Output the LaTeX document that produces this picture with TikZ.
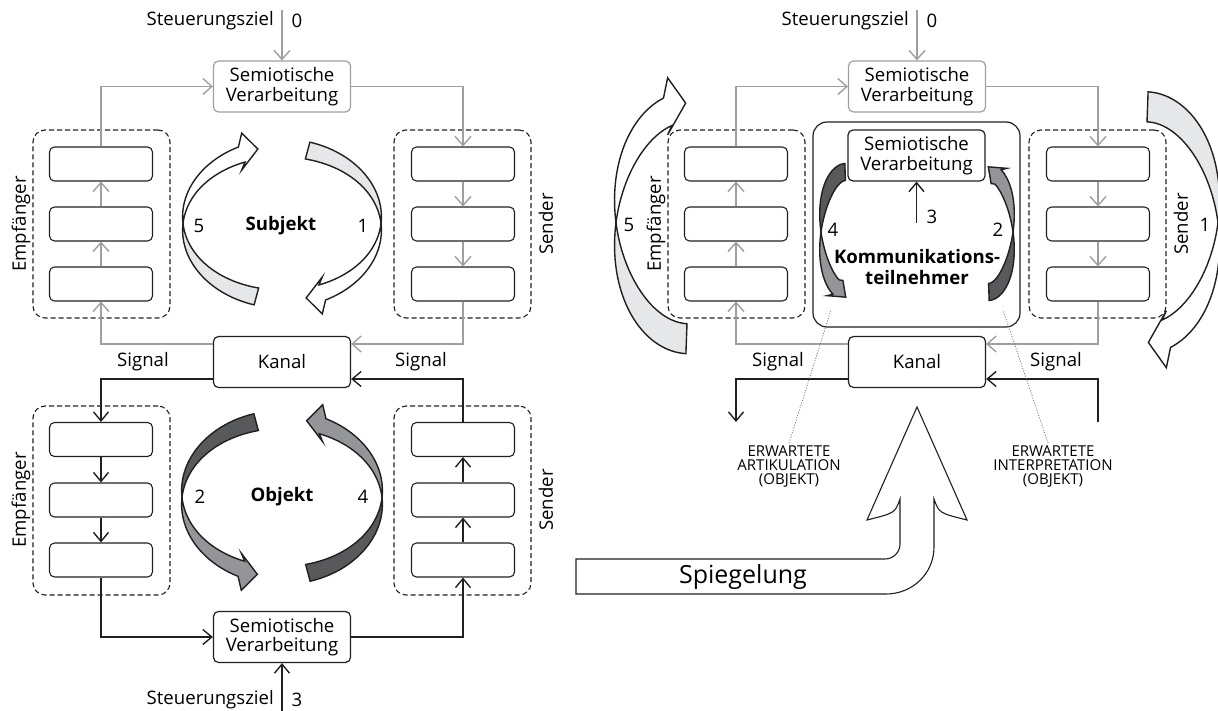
\documentclass[tikz,border=0pt]{standalone}
\usepackage{fontspec}
\setmainfont{Open Sans}
\usetikzlibrary{arrows.meta,calc}
\definecolor{lgray}{HTML}{9D9FA2}
\definecolor{ink}{HTML}{231F20}
\definecolor{fillA}{HTML}{E6E7E8}
\definecolor{midg}{HTML}{939598}
\definecolor{darkg}{HTML}{58595B}
\definecolor{dotg}{HTML}{707070}
\tikzset{
 txt/.style={font=\fontsize{18.6}{19.5}\selectfont, inner sep=0pt},
 box/.style={draw=ink, line width=1.2pt, rounded corners=5pt, minimum width=137pt, minimum height=51pt, align=center, txt},
 gbox/.style={box, draw=lgray},
 ibox/.style={draw=ink, line width=1.1pt, rounded corners=5pt, minimum width=103pt, minimum height=34pt, inner sep=0pt},
 grp/.style={draw=ink, dash pattern=on 5pt off 3pt, line width=1.1pt, rounded corners=12pt, minimum width=137pt, inner sep=0pt},
 garr/.style={draw=lgray, line width=1.4pt, -{Straight Barb[length=9pt,width=16pt]}},
 barr/.style={draw=ink, line width=1.4pt, -{Straight Barb[length=9pt,width=15pt]}},
 rib/.style={draw=ink, line width=1.4pt, line join=miter},
 small/.style={font=\fontsize{15}{14}\selectfont, inner sep=0pt, align=center},
}
% ribbon arrow: rx ry W t1(head) t2(flat) hw L colHead colFlat
\def\rboff{0}\def\rbs{0}
\newcommand\rbn[9]{%
 \pgfmathsetmacro\rbPx{#1*cos(#4)}%
 \pgfmathsetmacro\rbPy{#2*sin(#4)}%
 \pgfmathsetmacro\rbdx{#1*sin(#4)}%
 \pgfmathsetmacro\rbdy{-#2*cos(#4)}%
 \pgfmathsetmacro\rbdn{sqrt(\rbdx*\rbdx+\rbdy*\rbdy)}%
 \pgfmathsetmacro\rbux{\rbdx/\rbdn}%
 \pgfmathsetmacro\rbuy{\rbdy/\rbdn}%
 \pgfmathsetmacro\rbnx{-\rbs*\rbuy}%
 \pgfmathsetmacro\rbny{(1-\rbs)+\rbs*\rbux}%
 \pgfmathsetmacro\rbTx{\rbPx+#7*\rbux}%
 \pgfmathsetmacro\rbTy{\rbPy+#7*\rbuy}%
 \pgfmathsetmacro\rbAx{\rbPx+(#6+\rboff)*\rbnx}%
 \pgfmathsetmacro\rbAy{\rbPy+(#6+\rboff)*\rbny}%
 \pgfmathsetmacro\rbBx{\rbPx-(#6-\rboff)*\rbnx}%
 \pgfmathsetmacro\rbBy{\rbPy-(#6-\rboff)*\rbny}%
 \filldraw[rib, fill=#9] plot[domain=180:#5, samples=40, variable=\ang] ({(#1+#3*sin(\ang))*cos(\ang)},{(#2+#3*sin(\ang))*sin(\ang)}) -- plot[domain=#5:180, samples=40, variable=\ang] ({(#1-#3*sin(\ang))*cos(\ang)},{(#2-#3*sin(\ang))*sin(\ang)}) -- cycle;
 \filldraw[rib, fill=#8] plot[domain=180:#4, samples=40, variable=\ang] ({(#1+#3*sin(\ang))*cos(\ang)},{(#2+#3*sin(\ang))*sin(\ang)}) -- (\rbAx,\rbAy) -- (\rbTx,\rbTy) -- (\rbBx,\rbBy) -- plot[domain=#4:180, samples=40, variable=\ang] ({(#1-#3*sin(\ang))*cos(\ang)},{(#2-#3*sin(\ang))*sin(\ang)}) -- cycle;
}
\newcommand\upperhalf{%
 \node[txt, anchor=east] (stz) at (274,21) {Steuerungsziel};
 \node[txt] (stn) at (297,21) {0};
 \coordinate (stc) at (282,10);
 \node[gbox] (top) at (282,86.5) {Semiotische\\Verarbeitung};
 \node[box] (kanal) at (282,362) {Kanal};
 \node[grp, minimum height=188pt] (eg) at (101.5,224) {};
 \node[grp, minimum height=188pt] (sg) at (462.5,224) {};
 \node[ibox] (e1) at (101,164) {};
 \node[ibox] (e2) at (101,224) {};
 \node[ibox] (e3) at (101,284) {};
 \node[ibox] (s1) at (463,164) {};
 \node[ibox] (s2) at (463,224) {};
 \node[ibox] (s3) at (463,284) {};
 \node[txt, rotate=90] (el) at (21,224) {Empfänger};
 \node[txt, rotate=90] (sl) at (546,224) {Sender};
 \node[txt] (sigl) at (143,362) {Signal};
 \node[txt] (sigr) at (421,362) {Signal};
 \draw[garr] (stc) -- (top);
 \draw[garr] (e1.north) |- (top.west);
 \draw[garr] (e3.north) -- (e2.south);
 \draw[garr] (e2.north) -- (e1.south);
 \draw[garr] ([yshift=18pt]kanal.west) -| (e3.south);
 \draw[garr] (top.east) -| (s1.north);
 \draw[garr] (s1.south) -- (s2.north);
 \draw[garr] (s2.south) -- (s3.north);
 \draw[garr] (s3.south) |- ([yshift=18pt]kanal.east);
}
\begin{document}
\begin{tikzpicture}[x=1pt,y=-1pt]
\useasboundingbox (0,0) rectangle (1218,711);

% ---------- ribbon arrows ----------
\def\rboff{3}\def\rbs{0}
\begin{scope}[shift={(282,223.5)}, yscale=-1]
 \rbn{99}{75.5}{9}{114}{255}{18.5}{17}{white}{fillA}
\end{scope}
\begin{scope}[shift={(282,223.5)}, yscale=-1, rotate=180]
 \rbn{99}{75.5}{9}{114}{255}{18.5}{17}{white}{fillA}
\end{scope}
\begin{scope}[shift={(282,497.5)}]
 \rbn{100}{78}{9}{114}{255}{18.5}{17}{midg}{darkg}
\end{scope}
\begin{scope}[shift={(282,497.5)}, rotate=180]
 \rbn{100}{78}{9}{114}{255}{18.5}{17}{midg}{darkg}
\end{scope}
\def\rboff{5.5}
\begin{scope}[shift={(689,222.75)}, yscale=-1]
 \rbn{73}{116}{15}{107}{268}{28.5}{20}{white}{fillA}
\end{scope}
\begin{scope}[shift={(1145,222.75)}, yscale=-1, rotate=180]
 \rbn{73}{116}{15}{107}{268}{28.5}{20}{white}{fillA}
\end{scope}
\def\rboff{1.5}\def\rbs{1}
\begin{scope}[shift={(846,232)}]
 \rbn{25}{60}{8.5}{113.5}{268}{11}{14}{midg}{darkg}
\end{scope}
\begin{scope}[shift={(988,232)}, rotate=180]
 \rbn{25}{60}{8.5}{113.5}{268}{11}{14}{midg}{darkg}
\end{scope}

% ---------- left diagram ----------
\upperhalf
\node[txt] (subj) at (281,226) {\bfseries Subjekt};
\node[txt] (n5) at (199,226) {5};
\node[txt] (n1) at (363,226) {1};

\node[box] (bot) at (282,637) {Semiotische\\Verarbeitung};
\node[grp, minimum height=189pt] (leg) at (101.5,500.5) {};
\node[grp, minimum height=189pt] (lsg) at (462.5,500.5) {};
\node[ibox] (le1) at (101,439.5) {};
\node[ibox] (le2) at (101,500) {};
\node[ibox] (le3) at (101,560) {};
\node[ibox] (ls1) at (463,439.5) {};
\node[ibox] (ls2) at (463,500) {};
\node[ibox] (ls3) at (463,560) {};
\node[txt, rotate=90] (lel) at (21,500) {Empfänger};
\node[txt, rotate=90] (lsl) at (546,500) {Sender};
\node[txt] (obj) at (282,497) {\bfseries Objekt};
\node[txt] (n2) at (200,497) {2};
\node[txt] (n4) at (363,497) {4};
\node[txt, anchor=east] (stz3) at (274,700) {Steuerungsziel};
\node[txt] (stn3) at (297,700) {3};
\coordinate (stc3) at (282,711);
\draw[barr] ([yshift=-17pt]kanal.west) -| (le1.north);
\draw[barr] (le1.south) -- (le2.north);
\draw[barr] (le2.south) -- (le3.north);
\draw[barr] (le3.south) |- (bot.west);
\draw[barr] (bot.east) -| (ls3.south);
\draw[barr] (ls3.north) -- (ls2.south);
\draw[barr] (ls2.north) -- (ls1.south);
\draw[barr] (ls1.north) |- ([yshift=-17pt]kanal.east);
\draw[barr] (stc3) -- (bot.south);

% ---------- right diagram ----------
\begin{scope}[xshift=635pt, name prefix=R-]
 \upperhalf
\end{scope}
\node[txt] (rn5) at (629,225) {5};
\node[txt] (rn1) at (1205,225) {1};
\coordinate (rbl) at (736,422);
\coordinate (rbr) at (1098,422);
\draw[barr] ([yshift=-17pt]R-kanal.west) -| (rbl);
\draw[barr] (rbr) |- ([yshift=-17pt]R-kanal.east);

\node[draw=ink, line width=1.2pt, rounded corners=14pt, minimum width=207pt, minimum height=205pt, inner sep=0pt] (kt) at (916.5,224.5) {};
\node[box] (isv) at (916.5,155.5) {Semiotische\\Verarbeitung};
\coordinate (a3) at (916.5,223);
\draw[barr] (a3) -- (isv.south);
\node[txt] (k3) at (932,217) {3};
\node[txt] (k4) at (833,230) {4};
\node[txt] (k2) at (998,230) {2};
\node[txt, align=center, font=\fontsize{18.6}{21}\selectfont\bfseries] (ktl) at (917,267.5) {Kommunikations-\\teilnehmer};

% dotted leaders and labels
\node[small] (lab1) at (789,467) {ERWARTETE\\ARTIKULATION\\(OBJEKT)};
\node[small] (lab2) at (1053,467) {ERWARTETE\\INTERPRETATION\\(OBJEKT)};
\coordinate (d1a) at (831,310);
\coordinate (d2a) at (1003,310);
\draw[dotg, line width=0.8pt, dash pattern=on 1pt off 1.6pt] (lab1.north) ++(0,-3) -- (d1a);
\draw[dotg, line width=0.8pt, dash pattern=on 1pt off 1.6pt] (lab2.north) ++(-5,-3) -- (d2a);

% Spiegelung arrow
\draw[ink, line width=1.1pt, fill=white] (576,559) -- (885,559) .. controls (893.3,559) and (900,552.3) .. (900,544) -- (900,499) .. controls (895,513) .. (867,520) -- (917,407) -- (967,520) .. controls (939,513) .. (934,499) -- (934,547) .. controls (934,573.5) and (912.5,594) .. (886,594) -- (576,594) -- cycle;
\node[txt, font=\fontsize{25}{28}\selectfont] (spg) at (743,577) {Spiegelung};
\end{tikzpicture}
\end{document}
